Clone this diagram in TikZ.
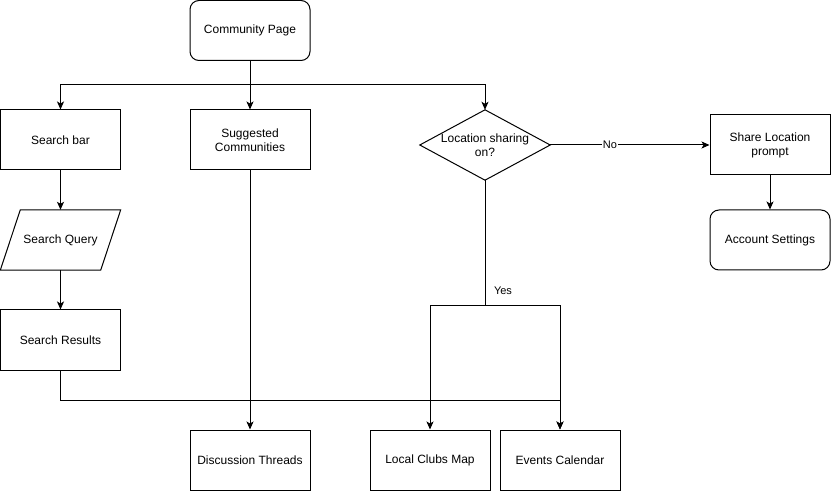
\documentclass[tikz,border=0pt]{standalone}
\usepackage{fontspec}
\setmainfont{Liberation Sans}
\usetikzlibrary{arrows.meta}
\begin{document}
\begin{tikzpicture}[x=1bp,y=-1bp,
  every node/.style={font=\fontsize{12bp}{14bp}\selectfont, align=center, inner sep=0pt},
  box/.style={draw, line width=1bp, minimum width=120bp, minimum height=60bp},
  rbox/.style={box, rounded corners=9bp},
  plain/.style={minimum width=120bp, minimum height=60bp},
  conn/.style={line width=1bp, -{Stealth[length=8bp,width=7bp,inset=2bp]}},
  line/.style={line width=1bp},
  lbl/.style={fill=white, inner sep=1bp}]
\useasboundingbox (0,0) rectangle (831,491);
\fill[white] (0,0) rectangle (831,491);

\node[rbox] (cp) at (250,30.5) {Community Page};
\node[box] (sb) at (60.5,140) {Search bar};
\node[box] (sc) at (250,140) {Suggested\\Communities};
\node[plain, minimum width=130bp, minimum height=70bp] (dia) at (485,145) {Location sharing\\on?};
\draw[line] (dia.west) -- (dia.north) -- (dia.east) -- (dia.south) -- cycle;
\node[box] (sl) at (770,145) {Share Location\\prompt};
\node[rbox] (as) at (770,240) {Account Settings};
\node[plain] (sq) at (60.5,240) {Search Query};
\draw[line] (sq.south west) -- ([xshift=20bp]sq.north west) -- (sq.north east) -- ([xshift=-20bp]sq.south east) -- cycle;
\node[box] (sr) at (60.5,340) {Search Results};
\node[box] (dt) at (250,460) {Discussion Threads};
\node[box] (lc) at (430,460) {Local Clubs Map};
\node[box] (ec) at (560,460) {Events Calendar};

\coordinate (split) at (250,85);
\draw[line] (cp.south) -- (split);
\draw[conn] (split) -| (sb.north);
\draw[conn] (split) -- (sc.north);
\draw[conn] (split) -| (dia.north);

\draw[conn] (sb.south) -- (sq.north -| sb.south);
\draw[conn] (sq.south -| sb.south) -- (sr.north);
\draw[conn] (sr.south) -- ++(0,30) -| (ec.north);
\draw[conn] (sc.south) -- (dt.north);

\coordinate (yes) at (485,305);
\draw[line] (dia.south) -- (yes);
\draw[conn] (yes) -| (lc.north);
\draw[conn] (yes) -| (ec.north);
\node[font=\fontsize{11bp}{13bp}\selectfont] (ylab) at (503,291) {Yes};

\draw[conn] (dia.east) -- node[lbl, pos=0.375, font=\fontsize{11bp}{13bp}\selectfont] (nlab) {No} (sl.west);
\draw[conn] (sl.south) -- (as.north);
\end{tikzpicture}
\end{document}
